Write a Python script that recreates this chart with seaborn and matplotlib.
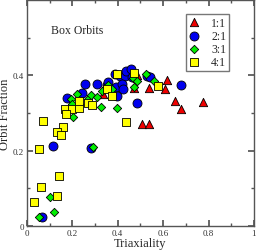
import matplotlib
matplotlib.use("Agg")
import matplotlib.pyplot as plt
from matplotlib.ticker import MultipleLocator
import seaborn as sns
import pandas as pd

# ── Data ─────────────────────────────────────────────────────────────────────
tri_11 = [0.335, 0.414, 0.485, 0.471, 0.537, 0.617, 0.608, 0.652, 0.678, 0.775, 0.507, 0.537]
frac_11 = [0.350, 0.379, 0.400, 0.366, 0.366, 0.387, 0.363, 0.331, 0.310, 0.328, 0.270, 0.270]

tri_21 = [0.176, 0.242, 0.256, 0.308, 0.352, 0.357, 0.392, 0.396, 0.388, 0.410, 0.432, 0.419,
          0.423, 0.436, 0.458, 0.463, 0.529, 0.542, 0.485, 0.678, 0.115, 0.282, 0.066]
frac_21 = [0.339, 0.352, 0.376, 0.376, 0.374, 0.381, 0.368, 0.344, 0.403, 0.397, 0.397, 0.376,
           0.363, 0.411, 0.416, 0.395, 0.397, 0.395, 0.326, 0.374, 0.212, 0.207, 0.024]

tri_31 = [0.194, 0.198, 0.220, 0.269, 0.282, 0.308, 0.330, 0.326, 0.203, 0.357, 0.374, 0.396,
          0.467, 0.485, 0.524, 0.559, 0.471, 0.101, 0.291, 0.119, 0.053]
frac_31 = [0.336, 0.323, 0.350, 0.336, 0.347, 0.342, 0.358, 0.315, 0.289, 0.374, 0.363, 0.313,
           0.392, 0.384, 0.403, 0.384, 0.368, 0.077, 0.209, 0.037, 0.024]

tri_41 = [0.070, 0.167, 0.198, 0.172, 0.229, 0.229, 0.269, 0.286, 0.352, 0.374, 0.396, 0.159,
          0.471, 0.577, 0.436, 0.132, 0.150, 0.053, 0.141, 0.062, 0.132, 0.031]
frac_41 = [0.278, 0.310, 0.310, 0.297, 0.313, 0.331, 0.326, 0.321, 0.363, 0.344, 0.403, 0.262,
           0.405, 0.371, 0.275, 0.249, 0.241, 0.204, 0.132, 0.103, 0.079, 0.064]

series = [
    ("1:1", tri_11, frac_11, "^", "#ee0000", 36),
    ("2:1", tri_21, frac_21, "o", "#0000ee", 42),
    ("3:1", tri_31, frac_31, "D", "#00ee00", 18),
    ("4:1", tri_41, frac_41, "s", "#ffff00", 30),
]

sns.set_theme(style="ticks")
plt.rcParams["font.family"] = ["Liberation Serif", "DejaVu Serif"]

fig = plt.figure(figsize=(2.56, 2.51), dpi=100)
ax = fig.add_axes([0.105, 0.096, 0.887, 0.9])

for label, xs, ys, marker, color, size in series:
    df = pd.DataFrame({"x": xs, "y": ys})
    sns.scatterplot(data=df, x="x", y="y", ax=ax, marker=marker, color=color,
                    s=size, edgecolor="black", linewidth=0.6, label=label, zorder=3)

ax.set_xlim(0, 1)
ax.set_ylim(0, 0.6)
ax.xaxis.set_minor_locator(MultipleLocator(0.1))
ax.yaxis.set_minor_locator(MultipleLocator(0.1))
ax.set_xticks([0, 0.2, 0.4, 0.6, 0.8, 1.0])
ax.set_xticklabels(["0", "0.2", "0.4", "0.6", "0.8", "1"])
ax.set_yticks([0, 0.2, 0.4, 0.6])
ax.set_yticklabels(["0", "0.2", "0.4", ""])
ax.tick_params(which="both", direction="in", top=True, right=True,
               labelsize=6.5, pad=2, color="#555555", labelcolor="#333333")
ax.tick_params(which="major", length=4)
ax.tick_params(which="minor", length=2)
for sp in ax.spines.values():
    sp.set_color("#555555")
    sp.set_linewidth(1.0)

ax.set_xlabel("Triaxiality", fontsize=9, labelpad=0)
ax.set_ylabel("Orbit Fraction", fontsize=9, labelpad=1)
ax.text(0.22, 0.52, "Box Orbits", fontsize=8.5, ha="center", va="center")

leg = ax.legend(loc="upper right", bbox_to_anchor=(0.89, 0.94), fontsize=8.5,
                frameon=True, fancybox=False, edgecolor="#555555",
                handletextpad=0.9, borderpad=0.25, labelspacing=0.1,
                handlelength=1.0, borderaxespad=0)
leg.get_frame().set_linewidth(1.0)

fig.savefig("out.png", dpi=100)
